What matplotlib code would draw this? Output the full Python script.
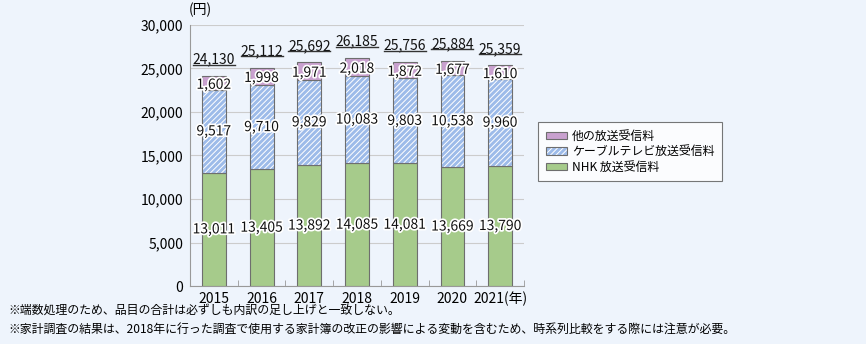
import matplotlib
matplotlib.use("Agg")
import matplotlib.pyplot as plt
import matplotlib.patheffects as pe
from matplotlib.patches import Patch
import numpy as np

plt.rcParams['font.family'] = ['Noto Sans CJK JP', 'DejaVu Sans']
plt.rcParams['hatch.linewidth'] = 0.7

years = ["2015", "2016", "2017", "2018", "2019", "2020", "2021(年)"]
nhk = [13011, 13405, 13892, 14085, 14081, 13669, 13790]
cable = [9517, 9710, 9829, 10083, 9803, 10538, 9960]
other = [1602, 1998, 1971, 2018, 1872, 1677, 1610]
totals = [24130, 25112, 25692, 26185, 25756, 25884, 25359]

series_names = ["他の放送受信料", "ケーブルテレビ放送受信料", "NHK 放送受信料"]
notes = ["※端数処理のため、品目の合計は必ずしも内訳の足し上げと一致しない。",
         "※家計調査の結果は、2018年に行った調査で使用する家計簿の改正の影響による変動を含むため、時系列比較をする際には注意が必要。"]

bg = "#eef4fc"
c_nhk = "#a6cb8b"
c_cable = "#9dbbe9"
c_other = "#c9a1cf"
edge = "#6e6e6e"
hatch = "//////"

fig = plt.figure(figsize=(8.66, 3.44), dpi=100, facecolor=bg)
ax = fig.add_axes([190 / 866, 1 - 286 / 344, (524 - 190) / 866, (286 - 25) / 344])
ax.set_facecolor(bg)

x = np.arange(len(years))
w = 0.5
nhk_a = np.array(nhk)
cable_a = np.array(cable)
other_a = np.array(other)

b_nhk = ax.bar(x, nhk_a, w, color=c_nhk, edgecolor=edge, linewidth=0.8, zorder=3)
# hatched fill in white, then a separate outline on top
ax.bar(x, cable_a, w, bottom=nhk_a, color=c_cable, edgecolor="white",
       linewidth=0, hatch=hatch, zorder=3)
ax.bar(x, cable_a, w, bottom=nhk_a, fill=False, edgecolor=edge, linewidth=0.8, zorder=3)
b_oth = ax.bar(x, other_a, w, bottom=nhk_a + cable_a, color=c_other, edgecolor=edge,
               linewidth=0.8, zorder=3)

halo = [pe.withStroke(linewidth=2.5, foreground="white")]
lab_kw = dict(ha="center", va="center", fontsize=10, color="#111111",
              path_effects=halo, zorder=5)
for i in range(len(years)):
    ax.text(x[i], nhk_a[i] / 2, f"{nhk[i]:,}", **lab_kw)
    ax.text(x[i], nhk_a[i] + cable_a[i] / 2, f"{cable[i]:,}", **lab_kw)
    ax.text(x[i], nhk_a[i] + cable_a[i] + other_a[i] / 2 - 200, f"{other[i]:,}", **lab_kw)
    ax.text(x[i], totals[i] + 1900, f"{totals[i]:,}", ha="center", va="center",
            fontsize=10, color="#111111", zorder=5)
    ax.plot([x[i] - 0.44, x[i] + 0.44], [totals[i] + 1300] * 2, color="#333333",
            linewidth=1.0, zorder=5, clip_on=False)

ax.set_xlim(-0.5, 6.5)
ax.set_ylim(0, 30000)
ax.set_yticks(np.arange(0, 30001, 5000))
ax.set_yticklabels([f"{v:,}" for v in range(0, 30001, 5000)], fontsize=10)
ax.set_xticks(x)
ax.set_xticklabels(years, fontsize=10)
ax.set_xticks(np.arange(-0.5, 7, 1.0), minor=True)
ax.tick_params(axis="x", which="major", length=0, pad=4)
ax.tick_params(axis="x", which="minor", length=4, direction="in", color="#999999")
ax.tick_params(axis="y", length=0, pad=5)
ax.grid(axis="y", color="#cccccc", linewidth=0.8, zorder=0)
for s in ["top", "right"]:
    ax.spines[s].set_visible(False)
for s in ["left", "bottom"]:
    ax.spines[s].set_color("#999999")
ax.text(0.03, 1.058, "(円)", transform=ax.transAxes, ha="center", va="center", fontsize=10)

cable_handle = (Patch(facecolor=c_cable, edgecolor="white", linewidth=0, hatch=hatch),
                Patch(fill=False, edgecolor=edge, linewidth=0.8))
leg = ax.legend([b_oth, cable_handle, b_nhk], series_names, loc="upper left",
                bbox_to_anchor=(538 / 866, 1 - 122 / 344), bbox_transform=fig.transFigure,
                fontsize=8.6, frameon=True, fancybox=False, edgecolor="#555555",
                facecolor="white", handlelength=1.75, handleheight=0.6,
                borderpad=0.65, labelspacing=0.2, handletextpad=0.45, borderaxespad=0)
leg.get_frame().set_linewidth(0.8)

fig.text(8 / 866, 1 - 311 / 344, notes[0], fontsize=8.6, va="center", ha="left")
fig.text(8 / 866, 1 - 329 / 344, notes[1], fontsize=8.6, va="center", ha="left")

fig.savefig("out.png", dpi=100, facecolor=bg)
